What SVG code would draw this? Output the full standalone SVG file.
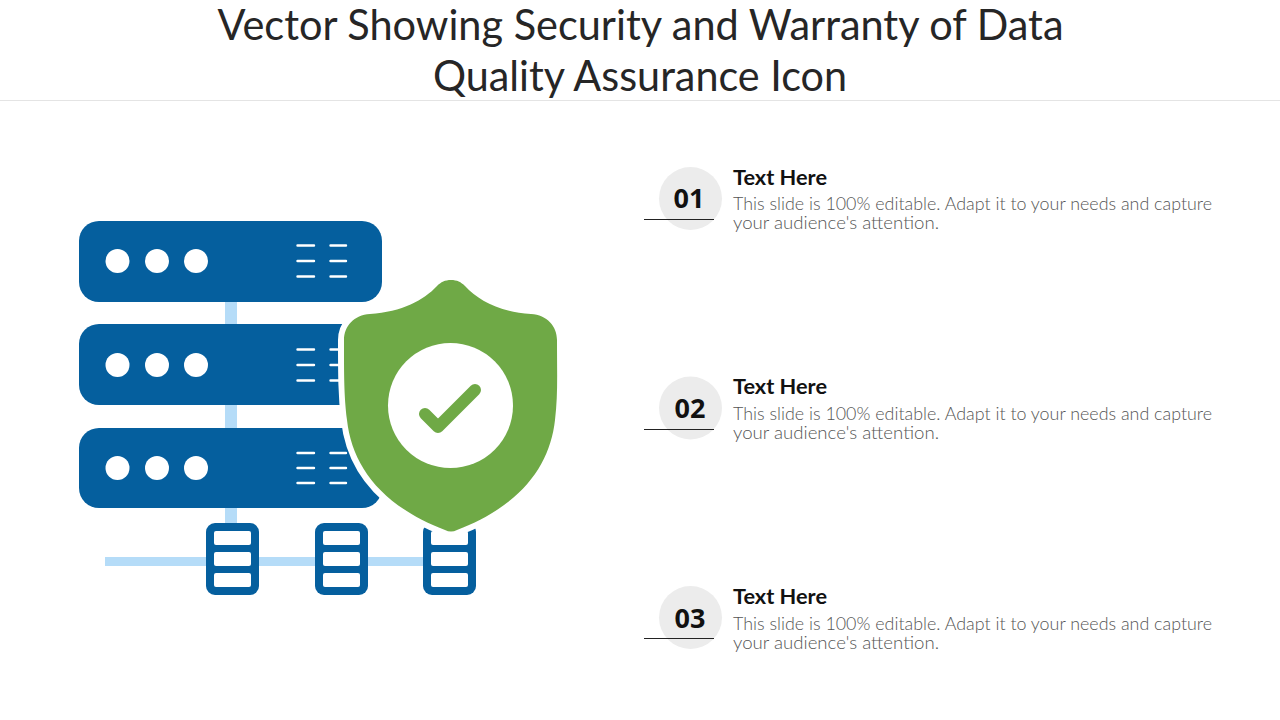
<svg xmlns="http://www.w3.org/2000/svg" width="1280" height="720" viewBox="0 0 1280 720">
<style>
.title{font-family:"Lato","Noto Sans",sans-serif;font-size:43px;fill:#262626;text-anchor:middle}
.num{font-family:"Open Sans","Noto Sans",sans-serif;font-weight:700;font-size:27px;fill:#111;text-anchor:middle}
.head{font-family:"Lato","Noto Sans",sans-serif;font-weight:700;font-size:21px;fill:#111}
.body{font-family:"Lato","Noto Sans",sans-serif;font-weight:300;font-size:17px;fill:#555}
.srv{fill:#055f9e}
.lnk{fill:#b5dcf8}
.wh{fill:#fff}
.dash{stroke:#fff;stroke-width:2.4;stroke-linecap:round;fill:none}
.badge{fill:#ececec}
.rule{stroke:#222;stroke-width:1}
</style>
<rect width="1280" height="720" fill="#fff"/>
<g id="title">
<text class="title" x="640.500" y="40" textLength="846" lengthAdjust="spacingAndGlyphs">Vector Showing Security and Warranty of Data</text>
<text class="title" x="640" y="91" textLength="414" lengthAdjust="spacingAndGlyphs">Quality Assurance Icon</text>
<rect x="0" y="100" width="1280" height="1" fill="#e4e4e4"/>
</g>
<g id="connectors">
<rect class="lnk" x="225" y="300" width="12" height="226"/>
<rect class="lnk" x="105" y="557" width="330" height="9"/>
</g>
<g id="server-1">
<rect class="srv" x="79" y="221" width="303" height="81" rx="20"/>
<circle class="wh" cx="117.500" cy="261" r="12"/><circle class="wh" cx="157" cy="261" r="12"/><circle class="wh" cx="196" cy="261" r="12"/>
<path class="dash" d="M297.500 245.500H314M330.500 245.500H346M297.500 261H314M330.500 261H346M297.500 276.500H314M330.500 276.500H346"/>
</g>
<g id="server-2">
<rect class="srv" x="79" y="324" width="303" height="81" rx="20"/>
<circle class="wh" cx="117.500" cy="365" r="12"/><circle class="wh" cx="157" cy="365" r="12"/><circle class="wh" cx="196" cy="365" r="12"/>
<path class="dash" d="M297.500 349.500H314M330.500 349.500H346M297.500 365H314M330.500 365H346M297.500 380.500H314M330.500 380.500H346"/>
</g>
<g id="server-3">
<rect class="srv" x="79" y="428" width="303" height="80" rx="20"/>
<circle class="wh" cx="117.500" cy="468" r="12"/><circle class="wh" cx="157" cy="468" r="12"/><circle class="wh" cx="196" cy="468" r="12"/>
<path class="dash" d="M297.500 453H314M330.500 453H346M297.500 468H314M330.500 468H346M297.500 483H314M330.500 483H346"/>
</g>
<g id="unit-1">
<rect class="srv" x="206" y="523" width="53" height="72" rx="9"/>
<rect class="wh" x="214" y="531" width="37" height="14" rx="2"/><rect class="wh" x="214" y="552" width="37" height="14" rx="2"/><rect class="wh" x="214" y="573" width="37" height="14" rx="2"/>
</g>
<g id="unit-2">
<rect class="srv" x="315" y="523" width="53" height="72" rx="9"/>
<rect class="wh" x="323" y="531" width="37" height="14" rx="2"/><rect class="wh" x="323" y="552" width="37" height="14" rx="2"/><rect class="wh" x="323" y="573" width="37" height="14" rx="2"/>
</g>
<g id="unit-3">
<rect class="srv" x="423" y="523" width="53" height="72" rx="9"/>
<rect class="wh" x="431" y="531" width="37" height="14" rx="2"/><rect class="wh" x="431" y="552" width="37" height="14" rx="2"/><rect class="wh" x="431" y="573" width="37" height="14" rx="2"/>
</g>
<g id="shield">
<path d="M451 280C445 280 441 282 437 286C424 300 402 312 370 314C354 315 344 326 344 340C344 375 344 395 347 420C352 465 380 505 445 530C449 532 453 532 457 530C522 505 550 465 555 420C558 395 557 375 557 340C557 326 547 315 531 314C499 312 478 300 465 286C461 282 457 280 451 280Z" fill="#6fa946" stroke="#fff" stroke-width="12" stroke-linejoin="round" paint-order="stroke"/>
<circle class="wh" cx="450.500" cy="405.500" r="62.500"/>
<path d="M425 414L438 427L475 390" fill="none" stroke="#6fa946" stroke-width="12" stroke-linecap="round" stroke-linejoin="round"/>
</g>
<g id="item-1">
<circle class="badge" cx="690.500" cy="198.500" r="31.500"/>
<line class="rule" x1="644" y1="219.500" x2="714" y2="219.500"/>
<text class="num" x="689" y="208">01</text>
<text class="head" x="733" y="185" textLength="94" lengthAdjust="spacingAndGlyphs">Text Here</text>
<text class="body" x="733" y="210" textLength="479" lengthAdjust="spacingAndGlyphs">This slide is 100% editable. Adapt it to your needs and capture</text>
<text class="body" x="733" y="229" textLength="206" lengthAdjust="spacingAndGlyphs">your audience's attention.</text>
</g>
<g id="item-2">
<circle class="badge" cx="690.500" cy="408" r="31.500"/>
<line class="rule" x1="644" y1="429.500" x2="714" y2="429.500"/>
<text class="num" x="690" y="418">02</text>
<text class="head" x="733" y="394" textLength="94" lengthAdjust="spacingAndGlyphs">Text Here</text>
<text class="body" x="733" y="420" textLength="479" lengthAdjust="spacingAndGlyphs">This slide is 100% editable. Adapt it to your needs and capture</text>
<text class="body" x="733" y="439" textLength="206" lengthAdjust="spacingAndGlyphs">your audience's attention.</text>
</g>
<g id="item-3">
<circle class="badge" cx="690.500" cy="617.500" r="31.500"/>
<line class="rule" x1="644" y1="638.500" x2="714" y2="638.500"/>
<text class="num" x="690" y="628">03</text>
<text class="head" x="733" y="604" textLength="94" lengthAdjust="spacingAndGlyphs">Text Here</text>
<text class="body" x="733" y="630" textLength="479" lengthAdjust="spacingAndGlyphs">This slide is 100% editable. Adapt it to your needs and capture</text>
<text class="body" x="733" y="649" textLength="206" lengthAdjust="spacingAndGlyphs">your audience's attention.</text>
</g>
</svg>
